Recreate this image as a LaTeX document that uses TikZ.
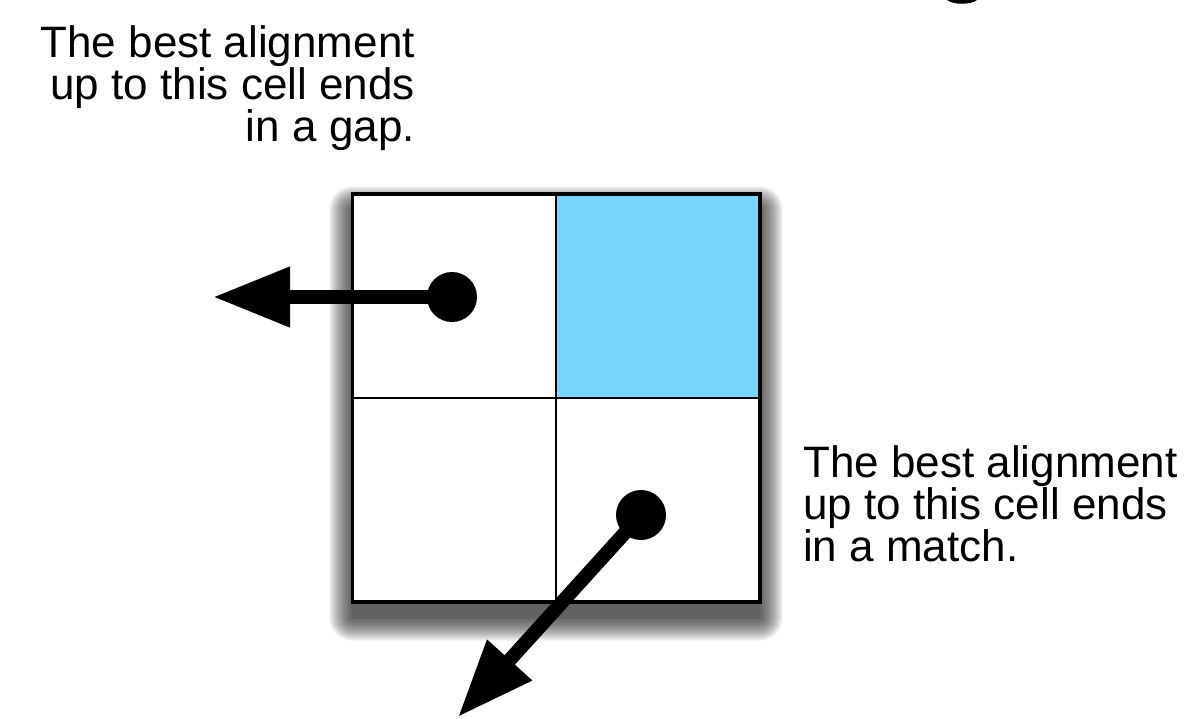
\documentclass[tikz,border=0pt]{standalone}
\usepackage{fontspec}
\setmainfont{Liberation Sans}
\usetikzlibrary{arrows.meta,positioning,calc}
\definecolor{cellblue}{RGB}{120,213,254}
\begin{document}
\begin{tikzpicture}[x=1pt,y=-1pt,>={Triangle[length=77pt,width=57pt]},
  cell/.style={draw,line width=2pt,minimum size=203pt,inner sep=0pt,fill=white},
  dot/.style={circle,fill=black,minimum size=50pt,inner sep=0pt},
  bigarrow/.style={->,line width=14pt},
  note/.style={inner sep=0pt,font=\fontsize{44}{41}\selectfont}]
\useasboundingbox (0,0) rectangle (1193,718);
\def\s{16}
\foreach \r in {24,23,...,1} { \fill[black,opacity=0.038,rounded corners=\r pt] (353-\r,194+\s-\r) rectangle (759+\r,601+\s+\r); }
\node[cell] (topleft) at (454.5,296) {};
\node[cell,fill=cellblue] (topright) at (657.5,296) {};
\node[cell] (botleft) at (454.5,499.5) {};
\node[cell] (botright) at (657.5,499.5) {};
\draw[line width=3pt] (topleft.north west) rectangle (botright.south east);
\node[dot] (gapdot) at (452,297) {};
\node[dot] (matchdot) at (641,515) {};
\coordinate (gapend) at (213,297);
\coordinate (matchend) at (458,717);
\draw[bigarrow] (gapdot.center) -- (gapend);
\draw[bigarrow] (matchdot.center) -- (matchend);
\node[note,align=right,anchor=north east] (gaptext) at (415,25) {The best alignment\\up to this cell ends\\in a gap.};
\node[note,align=left,anchor=north west] (matchtext) at (803,445) {The best alignment\\up to this cell ends\\in a match.};
\fill (947,0) .. controls (953,5) and (971,5) .. (977,0) -- cycle;
\end{tikzpicture}
\end{document}
